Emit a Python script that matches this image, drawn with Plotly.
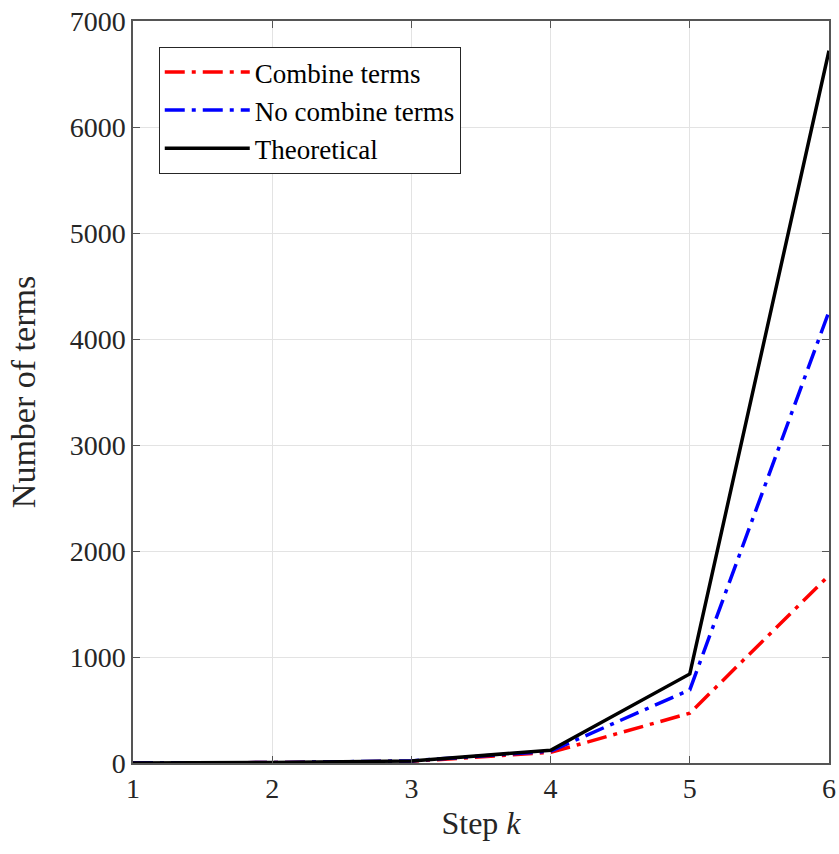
import plotly.graph_objects as go

steps = [1, 2, 3, 4, 5, 6]
combine_terms = [1, 4, 16, 100, 470, 1770]
no_combine_terms = [1, 4, 20, 112, 690, 4260]
theoretical = [1, 4, 20, 120, 840, 6720]

font_family = "Liberation Serif, Times New Roman, serif"
dash_pat = "20px,7px,4px,7px"

fig = go.Figure()
fig.add_trace(go.Scatter(x=steps, y=combine_terms, mode="lines", name="Combine terms",
                         line=dict(color="#ff0000", width=3.5, dash=dash_pat)))
fig.add_trace(go.Scatter(x=steps, y=no_combine_terms, mode="lines", name="No combine terms",
                         line=dict(color="#0000ff", width=3.5, dash=dash_pat)))
fig.add_trace(go.Scatter(x=steps, y=theoretical, mode="lines", name="Theoretical",
                         line=dict(color="#000000", width=3.5)))

axis_common = dict(
    showgrid=True, gridcolor="#e3e3e3", gridwidth=1,
    showline=True, linecolor="#555555", linewidth=1.5, mirror="ticks",
    ticks="inside", ticklen=7, tickcolor="#555555", tickwidth=1,
    zeroline=False, automargin=False,
    tickfont=dict(family=font_family, size=28, color="#262626"),
)

fig.update_layout(
    width=839, height=854,
    margin=dict(l=133, r=10, t=21, b=91),
    paper_bgcolor="white", plot_bgcolor="white",
    font=dict(family=font_family, color="#262626"),
    showlegend=True,
    legend=dict(x=0.037, y=0.965, xanchor="left", yanchor="top",
                bgcolor="white", bordercolor="#262626", borderwidth=1,
                font=dict(family=font_family, size=27, color="#000000"),
                tracegroupgap=0, itemwidth=85),
    xaxis=dict(range=[1, 6], dtick=1,
               title=dict(text="Step <i>k</i>", font=dict(family=font_family, size=32, color="#262626"), standoff=8),
               **axis_common),
    yaxis=dict(range=[0, 7000], dtick=1000,
               title=dict(text="Number of terms", font=dict(family=font_family, size=34, color="#262626"), standoff=24),
               **axis_common),
)

fig.write_html("out.html")
